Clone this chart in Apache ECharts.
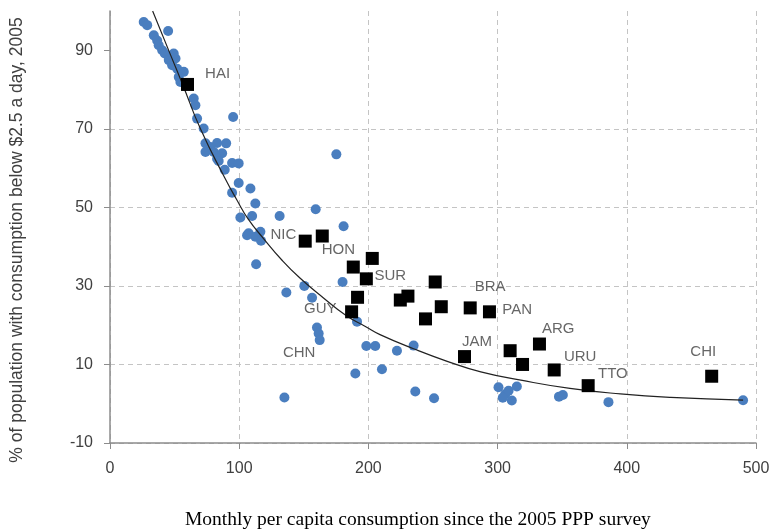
<!DOCTYPE html>
<html>
<head>
<meta charset="utf-8">
<script src="https://cdn.jsdelivr.net/npm/echarts@6/dist/echarts.min.js"></script>
<style>html,body{margin:0;padding:0;background:#fff;}#c{width:772px;height:531px;}</style>
</head>
<body>
<div id="c"></div>
<script>
// Blue dots: [consumption, % below $2.5]
const countryDots = [
  [26.1,97.2],[28.8,96.4],[45,94.9],[33.9,93.8],[36.5,92.5],[37.7,91.3],[40.4,90],[42.4,89.2],
  [49.3,89.2],[50.7,87.9],[45.5,87.5],[48.1,86.2],[52,85.3],[57.1,84.5],[53.2,83.2],[54.5,81.9],
  [64.8,77.7],[66.1,76],[67.4,72.6],[72.5,70.1],[73.9,66.3],[77.7,65.4],[73.9,64.1],
  [95.3,73],[82.9,66.4],[89.9,66.3],[80.3,64.1],[86.8,63.8],[82.9,62.4],[84.1,61.8],[94.5,61.3],
  [99.6,61.2],[88.8,59.6],[99.6,56.2],[108.7,54.8],[94.5,53.7],[112.5,51],[100.9,47.4],[110,47.8],
  [131.3,47.8],[107.3,43.4],[116.4,43.8],[112.5,42.5],[106.1,42.9],[116.9,41.5],[113.1,35.5],[136.5,28.3],
  [159.2,49.5],[180.8,45.2],[175.2,63.5],[150.4,30],[156.4,27],[180,31],[160.2,19.4],[161.5,17.9],
  [162.3,16.2],[191.2,20.9],[198.4,14.7],[205.3,14.7],[222.1,13.5],[235,14.8],[189.9,7.7],[210.5,8.8],
  [135,1.6],[236.3,3.1],[250.8,1.4],
  [300.7,4.2],[305.9,2.4],[308.5,3.3],[314.9,4.4],[304,1.5],[311,0.8],[347.5,1.8],[350.5,2.2],
  [385.8,0.4],[490,0.9]
];
// Black squares: highlighted countries
const highlightPoints = [
  [60,81.3],[151.1,41.4],[164.3,42.7],[188.3,34.8],[203,37],[198.4,31.8],[191.6,27.1],[187,23.4],
  [224.7,26.4],[230.6,27.4],[244.2,21.6],[251.7,31],[256.4,24.7],[278.8,24.4],[293.7,23.4],
  [274.4,12],[309.7,13.5],[319.3,10],[332.4,15.2],[343.8,8.6],[370.1,4.6],[465.7,7]
];
// Country label names and anchor values
const labelNames = ['HAI','NIC','HON','SUR','GUY','CHN','BRA','PAN','JAM','ARG','URU','TTO','CHI'];
const labelX = [83.3,134.2,176.7,216.9,162.8,146.4,294.2,315.2,284,346.9,363.9,389.2,459.2];
const labelY = [84.1,42.9,39.1,32.5,24.1,13.0,29.8,23.8,15.8,19.0,12.0,7.6,13.2];
// Fitted trend line
const trendX = [33,47,56,70,89,98,107,119,133,147,165,183,198,209,235,261,287,318,356,395,434,490];
const trendY = [100,88.7,81.5,70,57.4,52,47,42,36.6,32,27,22.4,19.6,17.6,14,10.8,8.1,6,3.9,2.5,1.6,0.9];
// Axis ticks
const xTicks = [0,100,200,300,400,500];
const yTicks = [-10,10,30,50,70,90];

const chart = echarts.init(document.getElementById('c'), null, {renderer:'canvas'});
const axisCol = '#8c8c8c';
const txtCol = '#404040';
chart.setOption({
  animation:false,
  backgroundColor:'#fff',
  title:{
    text:'Monthly per capita consumption since the 2005 PPP survey',
    left:180, top:505,
    textStyle:{fontFamily:'Liberation Serif, Times New Roman, serif', fontWeight:'normal', fontSize:19.5, color:'#000'}
  },
  grid:{left:110, right:16, top:11, bottom:88, containLabel:false, outerBoundsMode:'none'},
  xAxis:{
    type:'value', min:xTicks[0], max:xTicks[xTicks.length-1], interval:100,
    axisLine:{onZero:false, lineStyle:{color:axisCol, width:1.5}},
    axisTick:{show:true, length:6, lineStyle:{color:axisCol}},
    axisLabel:{color:txtCol, fontSize:16, margin:18, fontFamily:'Liberation Sans, Arial, sans-serif',
      formatter:v=>xTicks.includes(v)?String(v):''},
    splitLine:{show:true, lineStyle:{color:'#c4c4c4', type:[5,4], width:1}}
  },
  yAxis:{
    type:'value', min:-10, max:100, interval:20,
    name:'% of population with consumption below $2.5 a day, 2005',
    nameLocation:'middle', nameGap:84, nameRotate:90,
    nameTextStyle:{color:txtCol, fontSize:17.5, fontFamily:'Liberation Sans, Arial, sans-serif', padding:[0,0,0,-26]},
    axisLine:{show:true, lineStyle:{color:axisCol, width:1.5}},
    axisTick:{show:true, length:6, lineStyle:{color:axisCol}, customValues:yTicks},
    axisLabel:{color:txtCol, fontSize:16, margin:17, fontFamily:'Liberation Sans, Arial, sans-serif',
      customValues:yTicks, formatter:v=>yTicks.includes(v)?String(v):''},
    splitLine:{show:true, showMaxLine:false, lineStyle:{color:'#c4c4c4', type:[5,4], width:1}}
  },
  series:[
    {type:'scatter', data:countryDots, symbol:'circle', symbolSize:10,
      itemStyle:{color:'#4a7ebf', opacity:1}, z:2},
    {type:'line', data:trendX.map((x,i)=>[x,trendY[i]]), smooth:0.5, showSymbol:false, symbol:'none',
      lineStyle:{color:'#222', width:1.2}, z:3},
    {type:'scatter', data:highlightPoints, symbol:'rect', symbolSize:13,
      itemStyle:{color:'#000', opacity:1}, z:4},
    {type:'scatter', data:labelX.map((x,i)=>[x,labelY[i],labelNames[i]]), symbolSize:0,
      label:{show:true, position:'inside', formatter:p=>p.data[2], color:txtCol, fontSize:15,
        fontFamily:'Liberation Sans, Arial, sans-serif'}, z:5, silent:true}
  ]
});
</script>
</body>
</html>
